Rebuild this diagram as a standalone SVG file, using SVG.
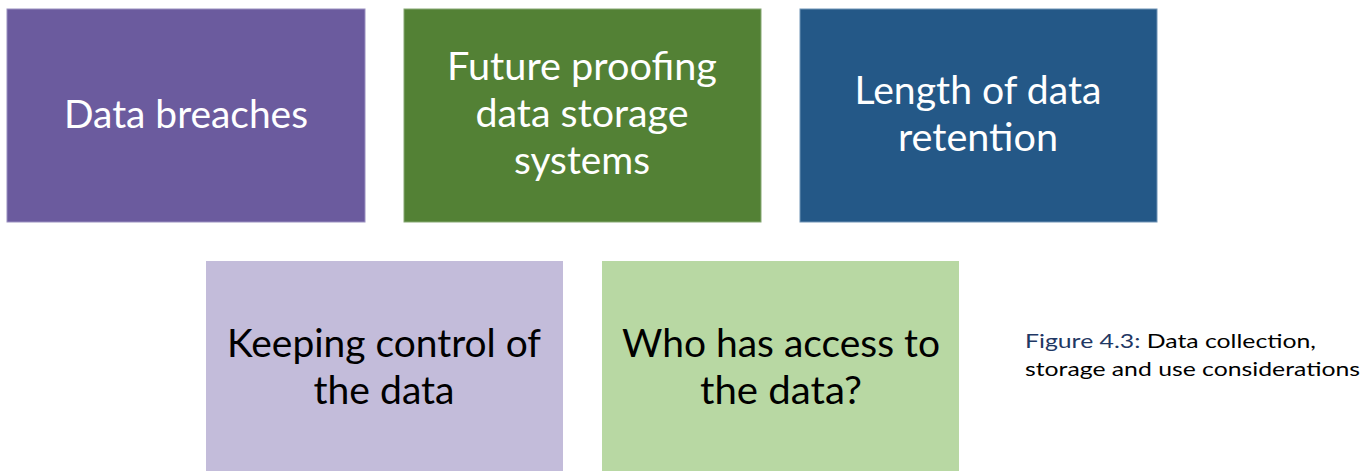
<svg xmlns="http://www.w3.org/2000/svg" width="1364" height="471" viewBox="0 0 1364 471">
<style>
.t{font-family:Lato,"Open Sans",sans-serif;font-size:39px;text-anchor:middle}
.w{fill:#ffffff}
.k{fill:#000000}
.cap{font-family:Lato,"Open Sans",sans-serif;font-size:20px;fill:#000000}
</style>
<rect width="1364" height="471" fill="#ffffff"/>
<g id="node-data-breaches">
<rect x="7" y="9" width="358" height="213" fill="#6B5B9E" stroke="#9A90C0" stroke-width="1"/>
<text class="t w" x="186" y="128" textLength="244" lengthAdjust="spacingAndGlyphs">Data breaches</text>
</g>
<g id="node-future-proofing">
<rect x="404" y="9" width="357" height="213" fill="#538135" stroke="#86A873" stroke-width="1"/>
<text class="t w" x="582" y="80" textLength="270" lengthAdjust="spacingAndGlyphs">Future proofing</text>
<text class="t w" x="582" y="127" textLength="213" lengthAdjust="spacingAndGlyphs">data storage</text>
<text class="t w" x="582" y="174" textLength="136" lengthAdjust="spacingAndGlyphs">systems</text>
</g>
<g id="node-length-retention">
<rect x="800" y="9" width="357" height="213" fill="#245887" stroke="#6F93B5" stroke-width="1"/>
<text class="t w" x="978" y="104" textLength="247" lengthAdjust="spacingAndGlyphs">Length of data</text>
<text class="t w" x="978" y="151" textLength="160" lengthAdjust="spacingAndGlyphs">retention</text>
</g>
<g id="node-keeping-control">
<rect x="206" y="261" width="357" height="212" fill="#C3BCDA"/>
<text class="t k" x="384" y="357" textLength="314" lengthAdjust="spacingAndGlyphs">Keeping control of</text>
<text class="t k" x="384" y="404" textLength="141" lengthAdjust="spacingAndGlyphs">the data</text>
</g>
<g id="node-who-has-access">
<rect x="602" y="261" width="357" height="212" fill="#B8D8A3"/>
<text class="t k" x="781" y="357" textLength="318" lengthAdjust="spacingAndGlyphs">Who has access to</text>
<text class="t k" x="781" y="404" textLength="162" lengthAdjust="spacingAndGlyphs">the data?</text>
</g>
<g id="connectors"></g>
<g id="caption">
<text class="cap" x="1025" y="348" textLength="291" lengthAdjust="spacingAndGlyphs"><tspan fill="#1F3864">Figure 4.3:</tspan> Data collection,</text>
<text class="cap" x="1025" y="376" textLength="335" lengthAdjust="spacingAndGlyphs">storage and use considerations</text>
</g>
</svg>
